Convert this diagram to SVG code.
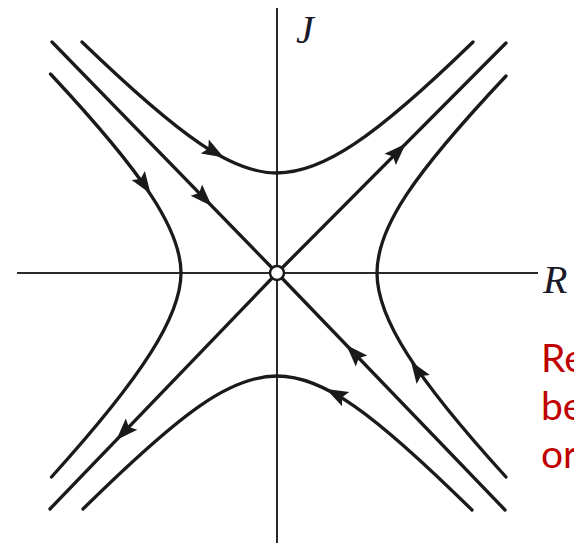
<svg xmlns="http://www.w3.org/2000/svg" width="574" height="545" viewBox="0 0 574 545">
<style>
.axis{stroke:#2a2a2a;stroke-width:2;fill:none}
.traj{stroke:#1a1a1a;stroke-width:3.3;fill:none;stroke-linecap:round;stroke-linejoin:round}
.lbl{font-family:"Liberation Serif","Times New Roman",serif;font-style:italic;font-size:40px;fill:#1a1a2a}
.red{font-family:Lato,"Open Sans",sans-serif;font-size:39px;fill:#c00000}
</style>
<defs>
<path id="ah" d="M1,0 L-21,-8 L-17,0 L-21,8 Z" fill="#1a1a1a"/>
</defs>
<rect width="574" height="545" fill="#ffffff"/>
<g id="axes">
<line class="axis" x1="277" y1="8" x2="277" y2="543"/>
<line class="axis" x1="17" y1="273" x2="538" y2="273"/>
</g>
<g id="trajectories">
<path class="traj" d="M52,42 L277,273 L505,510"/>
<path class="traj" d="M50,509 L277,273 L506,43"/>
<path class="traj" d="M82,42 C182,138.3 232,173 277,173 C322,173 373,139.2 473,42"/>
<path class="traj" d="M83,509 C183,410.5 231,376 277,376 C323,376 372,411.4 472,510"/>
<path class="traj" d="M50.5,74 C143.9,174 181,229.8 181,273 C181,316.2 142,377 51.5,477"/>
<path class="traj" d="M506,76 C411.9,176 377,228 377,273 C377,318 415.1,377 506,477"/>
</g>
<g id="arrows">
<use href="#ah" transform="translate(223,157) rotate(30)"/>
<use href="#ah" transform="translate(211,205.2) rotate(45.8)"/>
<use href="#ah" transform="translate(150,193) rotate(56)"/>
<use href="#ah" transform="translate(405,144.5) rotate(-45.1)"/>
<use href="#ah" transform="translate(117,439.3) rotate(133.9)"/>
<use href="#ah" transform="translate(347,345.8) rotate(-133.9)"/>
<use href="#ah" transform="translate(411.5,362) rotate(-124)"/>
<use href="#ah" transform="translate(327,389.5) rotate(-152.8)"/>
</g>
<g id="origin">
<circle cx="277" cy="273" r="7" fill="#ffffff" stroke="#1a1a1a" stroke-width="2.5"/>
</g>
<g id="labels">
<text class="lbl" x="296" y="43">J</text>
<text class="lbl" x="543" y="293">R</text>
<text class="red" x="541" y="372">Re</text>
<text class="red" x="541" y="420">be</text>
<text class="red" x="541" y="468">or</text>
</g>
</svg>
